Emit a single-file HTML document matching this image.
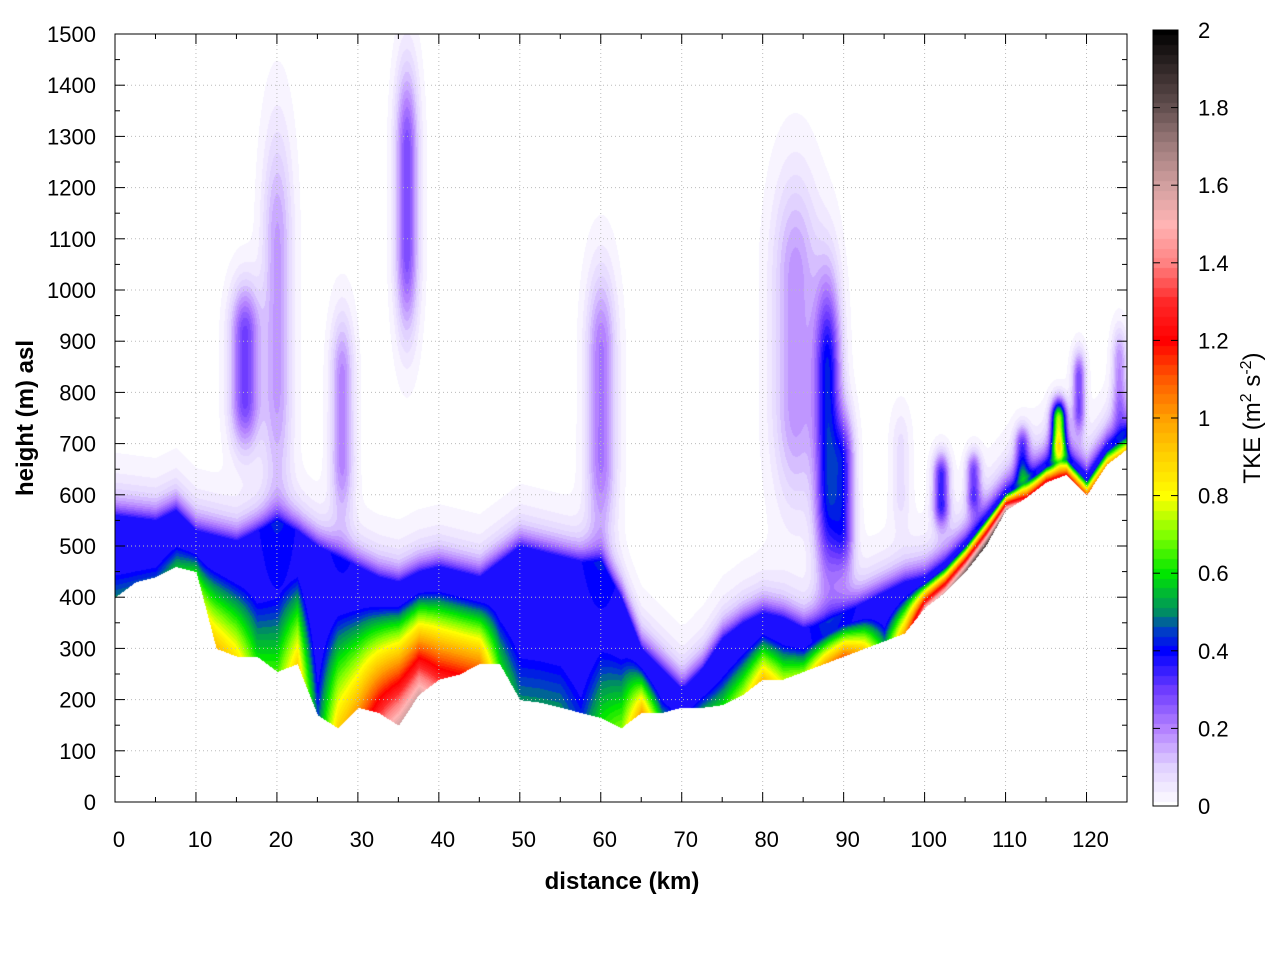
<!DOCTYPE html>
<html><head><meta charset="utf-8">
<style>
body{margin:0;background:#fff;width:1280px;height:960px;overflow:hidden;font-family:"Liberation Sans",sans-serif}
#wrap{position:relative;width:1280px;height:960px}
canvas{position:absolute}
svg{position:absolute;left:0;top:0}
</style></head><body>
<div id="wrap">
<canvas id="heat" width="1012" height="768" style="left:115px;top:34px"></canvas>
<canvas id="cbar" width="25" height="776" style="left:1153px;top:30px"></canvas>
<svg id="ax" width="1280" height="960"></svg>
</div>
<script>
// ---- data ----
const distances = [0,2.5,5,7.5,10,12.5,15,17.5,20,22.5,25,27.5,30,32.5,35,37.5,40,42.5,45,47.5,50,52.5,55,57.5,60,62.5,65,67.5,70,72.5,75,77.5,80,82.5,85,87.5,90,92.5,95,97.5,100,102.5,105,107.5,110,112.5,115,117.5,120,122.5,125];
const terrain = [400,430,440,460,450,300,285,285,255,270,170,145,185,175,150,210,240,250,270,270,200,195,185,175,165,145,175,175,185,185,190,210,240,240,255,270,285,300,315,330,380,410,450,500,570,595,625,640,600,660,690];
const surfaceTKE = [0.5,0.45,0.45,0.55,0.6,0.95,0.85,0.6,0.65,0.9,0.45,0.9,1.0,1.3,1.6,1.6,1.3,1.2,1.05,0.6,0.5,0.5,0.5,0.42,0.6,0.7,1.0,0.5,0.3,0.5,0.6,0.75,0.95,0.75,0.7,0.95,1.1,0.9,0.5,1.0,1.5,1.6,1.8,1.9,1.7,1.2,1.3,1.2,1.1,1.0,0.9];
const blTop = [560,555,550,570,530,520,510,530,550,530,500,480,460,440,430,450,460,450,440,470,500,490,480,470,470,400,300,260,220,260,320,350,370,360,340,350,370,390,410,430,440,470,510,560,610,630,650,660,630,680,710];
// plumes: center km, bottom m, top m, peak TKE, half-width km
const plumeX = [16,20,28,36,60,88,84,90,102,106,112,116.5,119,124,97];
const plumeBot = [650,500,500,850,450,350,500,400,520,550,600,650,700,700,500];
const plumeTop = [1050,1400,1000,1500,1100,1100,1300,800,700,700,750,800,900,950,800];
const plumeVal = [0.3,0.17,0.2,0.28,0.22,0.4,0.18,0.3,0.35,0.28,0.28,0.7,0.28,0.18,0.07];
const plumeW = [1.8,1.8,1.4,1.4,1.8,1.6,2.8,1.3,1.0,0.9,0.9,0.9,0.8,0.9,1.2];
const cbTicks = [0,0.2,0.4,0.6,0.8,1,1.2,1.4,1.6,1.8,2];
const xTicks = [0,10,20,30,40,50,60,70,80,90,100,110,120];
const yTicks = [0,100,200,300,400,500,600,700,800,900,1000,1100,1200,1300,1400,1500];

// ---- scales ----
const X0=115,X1=1127,Y0=802,Y1=34;
const xs = km => X0 + km/125*(X1-X0);
const ys = m => Y0 - m/1500*(Y0-Y1);

const stops=[[0,[255,255,255]],[0.1,[225,210,255]],[0.2,[180,130,255]],[0.3,[110,60,255]],[0.4,[0,0,255]],[0.45,[0,60,200]],[0.5,[0,140,100]],[0.6,[0,230,0]],[0.7,[130,255,0]],[0.8,[255,255,0]],[0.9,[255,210,0]],[1.0,[255,160,0]],[1.1,[255,90,0]],[1.2,[255,0,0]],[1.3,[255,40,40]],[1.4,[255,130,130]],[1.5,[255,180,180]],[1.6,[210,160,160]],[1.7,[160,125,125]],[1.8,[100,80,80]],[2.0,[0,0,0]]];
function cmap(v){
  v=Math.max(0,Math.min(2,Math.round(v/0.025)*0.025));
  for(let i=1;i<stops.length;i++){
    if(v<=stops[i][0]){const a=stops[i-1],b=stops[i];const t=(v-a[0])/(b[0]-a[0]);
      return a[1].map((c,k)=>c+(b[1][k]-c)*t);}
  }
  return [0,0,0];
}
function interp(arr,km){
  const p=km/2.5;const i=Math.min(arr.length-2,Math.floor(p));const t=p-i;
  return arr[i]*(1-t)+arr[i+1]*t;
}
function tke(km,h){
  const g=interp(terrain,km); if(h<g) return -1;
  const d=h-g; const top=interp(blTop,km); const depth=Math.max(40,top-g);
  const s=interp(surfaceTKE,km); const f=d/depth;
  let core=f<1?s*Math.pow(1-f,0.8):0;
  let blue=d<depth?0.38:0.38*Math.exp(-(d-depth)/36);
  let v=Math.max(core,blue);
  for(let i=0;i<plumeX.length;i++){
    const dx=(km-plumeX[i])/plumeW[i];
    const gx=Math.exp(-dx*dx);
    const mid=(plumeBot[i]+plumeTop[i])/2, half=(plumeTop[i]-plumeBot[i])/2;
    const dh=Math.max(0,Math.abs(h-mid)/half-0.3);
    const gh=Math.exp(-dh*dh/0.25);
    v+=plumeVal[i]*gx*gh;
  }
  return v;
}
// heatmap
(function(){
  const c=document.getElementById('heat'),ctx=c.getContext('2d');
  const W=c.width,H=c.height,img=ctx.createImageData(W,H);
  for(let py=0;py<H;py++){
    const h=(H-py)/H*1500;
    for(let px=0;px<W;px++){
      const km=px/W*125;const v=tke(km,h);const o=(py*W+px)*4;
      let col=v<0?[255,255,255]:cmap(v);
      img.data[o]=col[0];img.data[o+1]=col[1];img.data[o+2]=col[2];img.data[o+3]=255;
    }
  }
  ctx.putImageData(img,0,0);
  const cb=document.getElementById('cbar'),cx=cb.getContext('2d');
  for(let py=0;py<cb.height;py++){const v=(cb.height-py)/cb.height*2;const col=cmap(v);
    cx.fillStyle=`rgb(${col.map(Math.round).join(',')})`;cx.fillRect(0,py,25,1);}
})();
// axes
const NS='http://www.w3.org/2000/svg',svg=document.getElementById('ax');
function el(tag,attrs,txt){const e=document.createElementNS(NS,tag);for(const k in attrs)e.setAttribute(k,attrs[k]);if(txt!==undefined)e.textContent=txt;svg.appendChild(e);return e;}
xTicks.forEach(t=>{const x=xs(t);
  const g=el('line',{x1:x,y1:Y0,x2:x,y2:Y1,stroke:'#bbb','stroke-dasharray':'1,3','stroke-width':1});
  
  const l=el('text',{x:x+4,y:847,'text-anchor':'middle','font-size':22},String(t));
  
  el('line',{x1:x,y1:Y0,x2:x,y2:Y0-10,stroke:'#000'});el('line',{x1:x,y1:Y1,x2:x,y2:Y1+10,stroke:'#000'});
  const xm=xs(t+5); if(xm<X1){el('line',{x1:xm,y1:Y0,x2:xm,y2:Y0-5,stroke:'#000'});el('line',{x1:xm,y1:Y1,x2:xm,y2:Y1+5,stroke:'#000'});}
});
yTicks.forEach(t=>{const y=ys(t);
  const g=el('line',{x1:X0,y1:y,x2:X1,y2:y,stroke:'#bbb','stroke-dasharray':'1,3','stroke-width':1});
  
  const l=el('text',{x:96,y:y+8,'text-anchor':'end','font-size':22},String(t));
  
  el('line',{x1:X0,y1:y,x2:X0+10,y2:y,stroke:'#000'});el('line',{x1:X1,y1:y,x2:X1-10,y2:y,stroke:'#000'});
  const ym=ys(t+50); if(t<1500){el('line',{x1:X0,y1:ym,x2:X0+5,y2:ym,stroke:'#000'});el('line',{x1:X1,y1:ym,x2:X1-5,y2:ym,stroke:'#000'});}
});
const fr=el('rect',{x:X0,y:Y1,width:X1-X0,height:Y0-Y1,fill:'none',stroke:'#000'});

const cf=el('rect',{x:1153,y:30,width:25,height:776,fill:'none',stroke:'#000'});

cbTicks.forEach(t=>{const y=806-t/2*776;
  el('line',{x1:1153,y1:y,x2:1160,y2:y,stroke:'#000'});el('line',{x1:1178,y1:y,x2:1171,y2:y,stroke:'#000'});
  const l=el('text',{x:1198,y:y+8,'font-size':22},String(t));
  
});
</script>
<svg width="1280" height="960" style="pointer-events:none">
<text x="622" y="889" text-anchor="middle" font-size="24" font-weight="bold" font-family="Liberation Sans, sans-serif">distance (km)</text>
<text transform="translate(33,418) rotate(-90)" text-anchor="middle" font-size="24" font-weight="bold" font-family="Liberation Sans, sans-serif">height (m) asl</text>
<text transform="translate(1260,418) rotate(-90)" text-anchor="middle" font-size="24" font-family="Liberation Sans, sans-serif">TKE (m<tspan dy="-9" font-size="16">2</tspan><tspan dy="9"> s</tspan><tspan dy="-9" font-size="16">-2</tspan><tspan dy="9">)</tspan></text>
</svg>
</body></html>
